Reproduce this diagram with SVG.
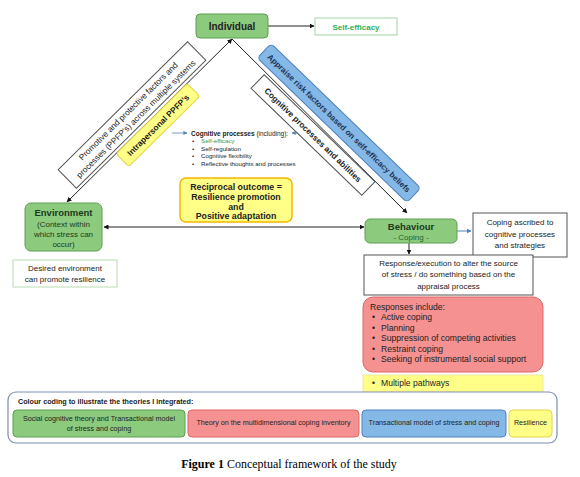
<svg xmlns="http://www.w3.org/2000/svg" width="580" height="477" viewBox="0 0 580 477">
<defs>
<marker id="ah" viewBox="0 0 10 10" refX="9" refY="5" markerWidth="5" markerHeight="5" orient="auto-start-reverse"><path d="M0,0 L10,5 L0,10 z" fill="#111"/></marker>
<marker id="ahb" viewBox="0 0 10 10" refX="9" refY="5" markerWidth="5" markerHeight="5" orient="auto-start-reverse"><path d="M0,0 L10,5 L0,10 z" fill="#4f81bd"/></marker>
</defs>
<style>
text{font-family:"Liberation Sans",Arial,sans-serif;fill:#222;}
.g{fill:#8ccb7e;stroke:#5f9e50;stroke-width:1;}
.w{fill:#fff;stroke:#555;stroke-width:1;}
.r{fill:#f69191;stroke:#e06666;stroke-width:1;}
.b{fill:#84b8e6;stroke:#4f81bd;stroke-width:1;}
.y{fill:#ffff88;stroke:#e6d34a;stroke-width:1;}
.c{text-anchor:middle;}
.t8{font-size:8px;}
.t85{font-size:8.6px;}
.t7{font-size:7.2px;}
.bd{font-weight:bold;}
.ln{stroke:#222;stroke-width:1;fill:none;}
</style>
<rect width="580" height="477" fill="#fff"/>
<g id="connectors">
<line class="ln" x1="232" y1="39" x2="67" y2="202" marker-start="url(#ah)" marker-end="url(#ah)"/>
<line class="ln" x1="232" y1="39" x2="407" y2="213" marker-end="url(#ah)"/>
<line class="ln" x1="104" y1="227" x2="364" y2="227" marker-start="url(#ah)" marker-end="url(#ah)"/>
<line class="ln" x1="268" y1="26" x2="314" y2="26" stroke="#666" marker-end="url(#ah)"/>
<line class="ln" x1="409" y1="243" x2="409" y2="254" marker-end="url(#ah)"/>
<line x1="457" y1="231" x2="471" y2="231" stroke="#4f81bd" stroke-width="1" marker-end="url(#ahb)"/>
<line x1="172" y1="133" x2="187" y2="133" stroke="#4f81bd" stroke-width="0.8" marker-end="url(#ahb)"/>
<line x1="302" y1="133" x2="292" y2="133" stroke="#4f81bd" stroke-width="0.8" marker-end="url(#ahb)"/>
</g>
<g id="individual">
<rect class="g" x="196" y="14" width="72" height="24" rx="4"/>
<text class="c bd" x="232" y="30" font-size="10">Individual</text>
</g>
<g id="self-efficacy">
<rect x="315" y="18" width="82" height="17" fill="#fff" stroke="#9fd3a8"/>
<text class="c bd t8" x="356" y="29.5" style="fill:#2fae5a">Self-efficacy</text>
</g>
<g id="ppfp">
<g transform="translate(132,115) rotate(-44.7)">
<rect class="w" x="-91" y="-13" width="182" height="26"/>
<text class="c" x="0" y="-2.5" font-size="8.3">Promotive and protective factors and</text>
<text class="c" x="0" y="8.5" font-size="8.3">processes (PPFP’s) across multiple systems</text>
</g>
</g>
<g id="intrapersonal">
<g transform="translate(158,125) rotate(-44.7)">
<rect class="y" x="-50" y="-9" width="100" height="18" rx="3"/>
<text class="c bd" x="0" y="3" font-size="8.3">Intrapersonal PPFP’s</text>
</g>
</g>
<g id="appraise">
<g transform="translate(339,123) rotate(44)">
<rect class="b" x="-104" y="-10" width="208" height="20" rx="4"/>
<text class="c bd" x="0" y="3" font-size="8" textLength="195" lengthAdjust="spacingAndGlyphs" style="fill:#1f3355">Appraise risk factors based on self-efficacy beliefs</text>
</g>
</g>
<g id="cognitive-abilities">
<g transform="translate(313,135) rotate(44)">
<rect class="w" x="-77" y="-9.5" width="154" height="19"/>
<text class="c bd" x="0" y="3" font-size="8.3">Cognitive processes and abilities</text>
</g>
</g>
<g id="cognitive-list">
<text x="191" y="135.5" font-size="6.5"><tspan font-weight="bold">Cognitive processes</tspan> (including):</text>
<text x="192" y="143" font-size="6.2">•</text><text x="201" y="143" font-size="6.2" style="fill:#3a9a4a">Self-efficacy</text>
<text x="192" y="150.5" font-size="6.2">•</text><text x="201" y="150.5" font-size="6.2">Self-regulation</text>
<text x="192" y="158" font-size="6.2">•</text><text x="201" y="158" font-size="6.2">Cognitive flexibility</text>
<text x="192" y="165.5" font-size="6.2">•</text><text x="201" y="165.5" font-size="6.2">Reflective thoughts and processes</text>
</g>
<g id="reciprocal">
<rect x="180" y="178" width="112" height="44" rx="6" fill="#ffff88" stroke="#f2b800" stroke-width="1.5"/>
<text class="c bd" x="236" y="190" font-size="8.8">Reciprocal outcome =</text>
<text class="c bd" x="236" y="200" font-size="8.8">Resilience promotion</text>
<text class="c bd" x="236" y="209.5" font-size="8.8">and</text>
<text class="c bd" x="236" y="219" font-size="8.8">Positive adaptation</text>
</g>
<g id="environment">
<rect class="g" x="25" y="203" width="77" height="48" rx="6"/>
<text class="c bd" x="63.5" y="216" font-size="9.5" style="fill:#1d3a1d">Environment</text>
<text class="c t8" x="63.5" y="226.5" style="fill:#1d3a1d">(Context within</text>
<text class="c t8" x="63.5" y="236.5" style="fill:#1d3a1d">which stress can</text>
<text class="c t8" x="63.5" y="246.5" style="fill:#1d3a1d">occur)</text>
</g>
<g id="desired">
<rect x="13" y="260" width="104" height="27" fill="#fff" stroke="#b8dcb0"/>
<text class="c t8" x="65" y="271">Desired environment</text>
<text class="c t8" x="65" y="282">can promote resilience</text>
</g>
<g id="behaviour">
<rect class="g" x="365" y="219" width="92" height="24" rx="5"/>
<text class="c bd" x="411" y="230" font-size="9.5" style="fill:#1d3a1d">Behaviour</text>
<text class="c t8" x="411" y="240" style="fill:#2e5e2e">- Coping -</text>
</g>
<g id="coping-ascribed">
<rect class="w" x="473" y="213" width="94" height="44"/>
<text class="c t8" x="520" y="225">Coping ascribed to</text>
<text class="c t8" x="520" y="236.5">cognitive processes</text>
<text class="c t8" x="520" y="248">and strategies</text>
</g>
<g id="response">
<rect class="w" x="364" y="255" width="169" height="40"/>
<text class="c t8" x="448.5" y="266">Response/execution to alter the source</text>
<text class="c t8" x="448.5" y="277">of stress / do something based on the</text>
<text class="c t8" x="448.5" y="288.5">appraisal process</text>
</g>
<g id="responses-include">
<rect class="r" x="363" y="297" width="180" height="75" rx="10"/>
<text class="t85" x="370" y="309.5">Responses include:</text>
<text class="t85" x="372" y="320">•</text><text class="t85" x="381" y="320">Active coping</text>
<text class="t85" x="372" y="330.5">•</text><text class="t85" x="381" y="330.5">Planning</text>
<text class="t85" x="372" y="341">•</text><text class="t85" x="381" y="341">Suppression of competing activities</text>
<text class="t85" x="372" y="351.5">•</text><text class="t85" x="381" y="351.5">Restraint coping</text>
<text class="t85" x="372" y="362">•</text><text class="t85" x="381" y="362">Seeking of instrumental social support</text>
</g>
<g id="multiple-pathways">
<rect x="363" y="375" width="180" height="17" fill="#ffff88" stroke="#f0e6a0"/>
<text class="t85" x="372" y="386">•</text><text class="t85" x="381" y="386">Multiple pathways</text>
</g>
<g id="legend">
<rect x="8" y="392" width="549" height="51" rx="8" fill="#fff" stroke="#7f8fb0" stroke-width="1.2"/>
<text class="t7 bd" x="18" y="404">Colour coding to illustrate the theories I integrated:</text>
<rect class="g" x="13" y="410" width="172" height="27" rx="4"/>
<text class="c t7" x="99" y="421">Social cognitive theory and Transactional model</text>
<text class="c t7" x="99" y="431">of stress and coping</text>
<rect class="r" x="188" y="410" width="171" height="27" rx="4"/>
<text class="c t7" x="273.5" y="424.5">Theory on the multidimensional coping inventory</text>
<rect class="b" x="362" y="410" width="144" height="27" rx="4"/>
<text class="c t7" x="434" y="424.5">Transactional model of stress and coping</text>
<rect class="y" x="509" y="410" width="43" height="27" rx="4"/>
<text class="c t7" x="530.5" y="424.5">Resilience</text>
</g>
<g id="caption">
<text class="c" x="289" y="468" font-size="12" style="font-family:'Liberation Serif','Times New Roman',serif;fill:#000"><tspan font-weight="bold">Figure 1</tspan> Conceptual framework of the study</text>
</g>
</svg>
